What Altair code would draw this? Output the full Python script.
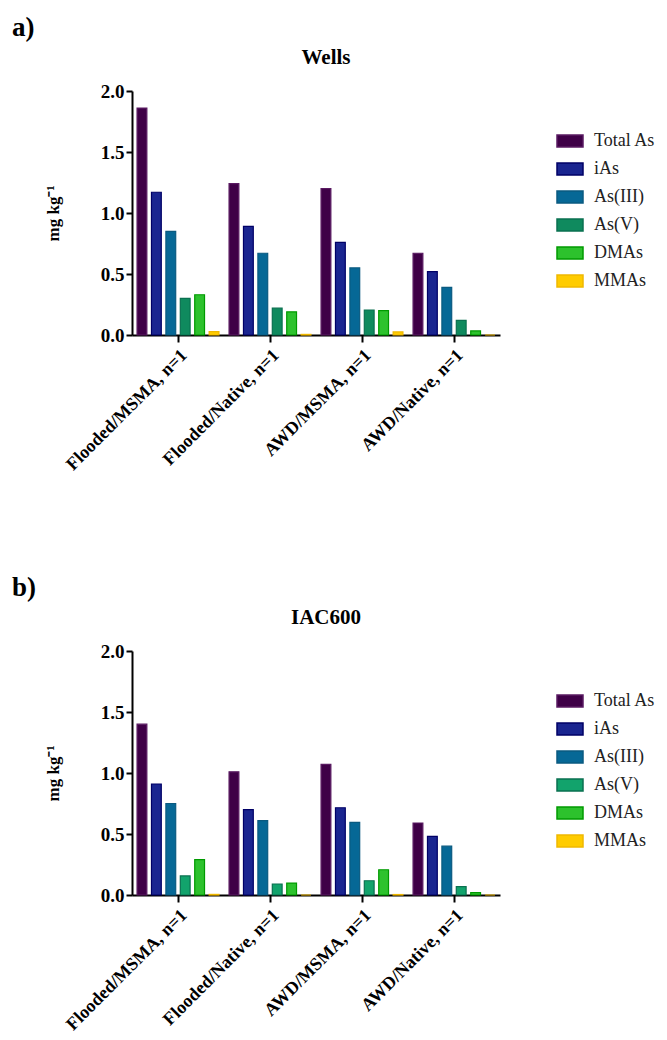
import altair as alt
import pandas as pd

FONT = "Liberation Serif"

groups = ["Flooded/MSMA, n=1", "Flooded/Native, n=1", "AWD/MSMA, n=1", "AWD/Native, n=1"]
species = ["Total As", "iAs", "As(III)", "As(V)", "DMAs", "MMAs"]

# Wells
wells_total = [1.86, 1.24, 1.20, 0.67]
wells_ias = [1.17, 0.89, 0.76, 0.52]
wells_as3 = [0.85, 0.67, 0.55, 0.39]
wells_as5 = [0.30, 0.22, 0.205, 0.12]
wells_dmas = [0.33, 0.19, 0.20, 0.033]
wells_mmas = [0.027, 0.005, 0.025, 0.0]

# IAC600
iac_total = [1.40, 1.01, 1.07, 0.59]
iac_ias = [0.91, 0.70, 0.715, 0.48]
iac_as3 = [0.75, 0.61, 0.595, 0.40]
iac_as5 = [0.156, 0.09, 0.117, 0.068]
iac_dmas = [0.29, 0.098, 0.207, 0.019]
iac_mmas = [0.005, 0.0, 0.004, 0.0]

fill_top = ["#3f0047", "#1a2590", "#066896", "#0f8a5e", "#2dc22d", "#ffcc00"]
fill_bot = ["#3f0047", "#1a2590", "#066896", "#12a36c", "#2dc22d", "#ffcc00"]
stroke_cols = ["#5a1a62", "#000066", "#0a5a80", "#0a7050", "#009a00", "#f0b800"]


def make_df(series):
    rows = []
    for sp, vals in zip(species, series):
        for g, v in zip(groups, vals):
            rows.append({"group": g, "species": sp, "value": v})
    return pd.DataFrame(rows)


def panel(df, title, label, fills):
    bars = alt.Chart(df).mark_bar(strokeWidth=1.2).encode(
        x=alt.X(
            "group:N",
            sort=groups,
            scale=alt.Scale(paddingInner=0.11, paddingOuter=0.055),
            axis=alt.Axis(
                title=None,
                labelAngle=-45,
                labelFont=FONT,
                labelFontSize=18,
                labelFontWeight="bold",
                labelColor="black",
                labelLimit=0,
                domainColor="black",
                domainWidth=2,
                tickColor="black",
                tickWidth=2,
                tickSize=7,
                labelPadding=4,
            ),
        ),
        xOffset=alt.XOffset("species:N", sort=species, scale=alt.Scale(paddingInner=0.32)),
        y=alt.Y(
            "value:Q",
            scale=alt.Scale(domain=[0, 2]),
            axis=alt.Axis(
                title="mg kg⁻¹",
                titleFont=FONT,
                titleFontSize=17,
                titleFontWeight="bold",
                titleColor="black",
                titlePadding=38,
                values=[0, 0.5, 1.0, 1.5, 2.0],
                format=".1f",
                labelFont=FONT,
                labelFontSize=19,
                labelFontWeight="bold",
                labelColor="black",
                domainColor="black",
                domainWidth=2,
                tickColor="black",
                tickWidth=2,
                tickSize=6,
                grid=False,
                labelPadding=2,
            ),
        ),
        color=alt.Color(
            "species:N",
            sort=species,
            scale=alt.Scale(domain=species, range=fills),
            legend=alt.Legend(
                title=None,
                orient="none",
                legendX=424,
                legendY=36,
                symbolType="M-1,-0.46H1V0.46H-1Z",
                symbolSize=676,
                labelFont=FONT,
                labelFontSize=18,
                labelColor="#222222",
                rowPadding=5,
                labelOffset=10,
            ),
        ),
        stroke=alt.Stroke(
            "species:N",
            sort=species,
            scale=alt.Scale(domain=species, range=stroke_cols),
            legend=None,
        ),
    )
    ttl = alt.Chart(pd.DataFrame({"t": [title]})).mark_text(
        font=FONT, fontSize=21, fontWeight="bold", color="black"
    ).encode(text="t:N", x=alt.value(194), y=alt.value(-33))
    lbl = alt.Chart(pd.DataFrame({"t": [label]})).mark_text(
        font=FONT, fontSize=27, fontWeight="bold", color="black", align="left"
    ).encode(text="t:N", x=alt.value(-120), y=alt.value(-63))
    return alt.layer(bars, ttl, lbl).properties(width=368, height=244)


top = panel(make_df([wells_total, wells_ias, wells_as3, wells_as5, wells_dmas, wells_mmas]), "Wells", "a)", fill_top)
bot = panel(make_df([iac_total, iac_ias, iac_as3, iac_as5, iac_dmas, iac_mmas]), "IAC600", "b)", fill_bot)

chart = (
    alt.vconcat(top, bot, spacing=100)
    .resolve_scale(color="independent", stroke="independent")
    .configure_view(stroke=None)
    .properties(padding={"left": 4, "top": 6, "right": 0, "bottom": 0}, background="white")
)

chart.save("out.html", embed_options={"renderer": "svg", "actions": False})
